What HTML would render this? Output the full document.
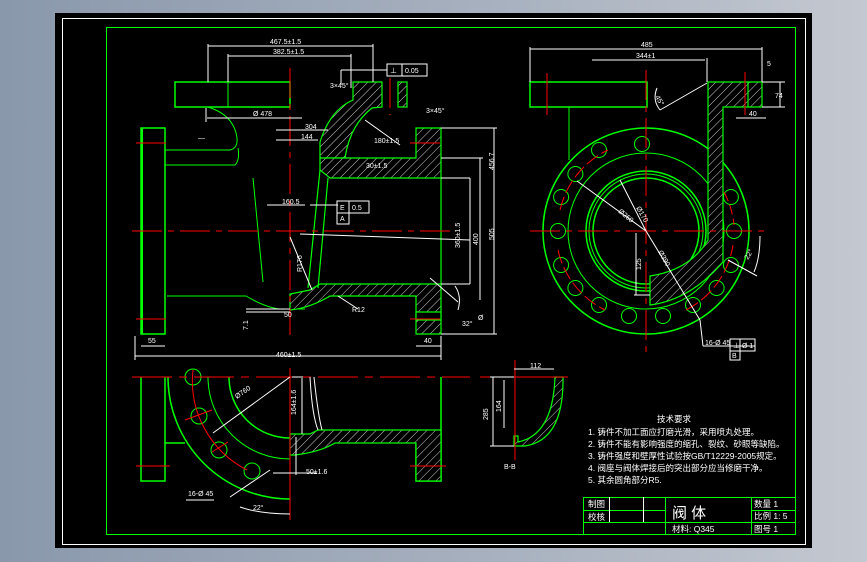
<!DOCTYPE html>
<html><head><meta charset="utf-8"><style>
html,body{margin:0;padding:0;width:867px;height:562px;overflow:hidden;background:linear-gradient(90deg,#8a98ac 0%,#a9b2c0 60%,#c4c8d0 100%);}
svg{position:absolute;left:0;top:0}
text{font-family:"Liberation Sans","Noto Sans CJK SC",sans-serif;fill:#fff}
</style></head><body>
<svg width="867" height="562" viewBox="0 0 867 562" xmlns="http://www.w3.org/2000/svg">
<defs>
<pattern id="h" patternUnits="userSpaceOnUse" width="6" height="6" patternTransform="rotate(45)">
<rect width="6" height="6" fill="#000"/><line x1="0" y1="0" x2="0" y2="6" stroke="#fff" stroke-width="0.8"/></pattern>
</defs>
<rect x="55" y="13" width="757" height="535" fill="#000"/>
<rect x="62.5" y="18.5" width="743" height="526" fill="none" stroke="#fff" stroke-width="1"/>
<rect x="106.5" y="27.5" width="689" height="507" fill="none" stroke="#0f0" stroke-width="1"/>

<!-- FRONT VIEW -->
<g stroke="#0f0" fill="none" stroke-width="1.5">
<rect x="175" y="82" width="115" height="25"/>
<line x1="228" y1="82" x2="228" y2="107" stroke-width="1"/>
<rect x="141" y="128" width="24" height="206"/>
<line x1="142" y1="128" x2="142" y2="334" stroke-width="2"/>
<path d="M165 150 L230 150 Q238 148 237 138 Q234 115 208 107" stroke-width="1"/>
<path d="M165 165 L235 165 Q240 160 238 148" stroke-width="1"/>
<path d="M167 296 L246 296 Q270 310 285 309 L305 309" stroke-width="1"/>
<path d="M253 178 L263 282" stroke-width="1"/>
</g>
<g stroke="#0f0" stroke-width="1.2">
<path d="M353 82 L382 82 L382 107 L372 108 Q350 125 345 158 L320 158 L320 142 Q330 110 353 100 Z" fill="url(#h)"/>
<rect x="398" y="82" width="9" height="25" fill="url(#h)"/>
<path d="M320 158 L416 158 L416 128 L441 128 L441 178 L330 178 L320 170 Z" fill="url(#h)"/>
<path d="M320 284 L441 284 L441 334 L416 334 L416 296 L330 296 Q310 308 290 310 L290 294 L310 290 Z" fill="url(#h)"/>
<line x1="320" y1="170" x2="308" y2="288" fill="none"/>
<line x1="328" y1="178" x2="318" y2="288" fill="none"/>
<line x1="441" y1="178" x2="441" y2="284" fill="none"/>
<rect x="416" y="312" width="25" height="8" fill="#000"/>
</g>
<g stroke="#f00" stroke-width="1" stroke-dasharray="30,6,6,6">
<line x1="132" y1="231" x2="450" y2="231"/>
<line x1="290" y1="68" x2="290" y2="335"/>
<line x1="390" y1="78" x2="390" y2="115"/>
<line x1="136" y1="143" x2="170" y2="143"/><line x1="136" y1="319" x2="170" y2="319"/>
<line x1="410" y1="143" x2="446" y2="143"/><line x1="410" y1="319" x2="446" y2="319"/>
</g>
<!-- front dims -->
<g stroke="#fff" stroke-width="1" fill="none">
<line x1="208" y1="46" x2="373" y2="46"/><line x1="208" y1="44" x2="208" y2="82"/><line x1="373" y1="44" x2="373" y2="82"/>
<line x1="228" y1="56" x2="351" y2="56"/><line x1="228" y1="54" x2="228" y2="82"/><line x1="351" y1="54" x2="351" y2="88"/>
<line x1="207" y1="118" x2="302" y2="118"/><line x1="206" y1="108" x2="206" y2="122"/>
<line x1="276" y1="130" x2="328" y2="130"/><line x1="276" y1="140" x2="318" y2="140"/>
<line x1="267" y1="205" x2="305" y2="205"/><line x1="310" y1="205" x2="338" y2="205"/>
<line x1="441" y1="128" x2="497" y2="128"/><line x1="441" y1="334" x2="497" y2="334"/><line x1="494" y1="128" x2="494" y2="334"/>
<line x1="441" y1="158" x2="483" y2="158"/><line x1="480" y1="158" x2="480" y2="300"/>
<line x1="441" y1="178" x2="470" y2="178"/><line x1="470" y1="178" x2="470" y2="284"/><line x1="441" y1="284" x2="470" y2="284"/>
<line x1="135" y1="356" x2="441" y2="356"/><line x1="135" y1="336" x2="135" y2="360"/><line x1="441" y1="336" x2="441" y2="360"/>
<line x1="141" y1="346" x2="165" y2="346"/><line x1="416" y1="346" x2="441" y2="346"/>
<line x1="290" y1="237" x2="312" y2="290"/><line x1="300" y1="234" x2="470" y2="240"/>
<line x1="365" y1="120" x2="400" y2="145"/>
<line x1="246" y1="309" x2="290" y2="309"/><line x1="246" y1="312" x2="290" y2="312"/>
<line x1="338" y1="296" x2="358" y2="309"/>
<rect x="387" y="64" width="15" height="12"/><rect x="402" y="64" width="25" height="12"/>
<line x1="341" y1="70" x2="387" y2="70"/><line x1="341" y1="70" x2="341" y2="85"/>
<rect x="337" y="201" width="12" height="12"/><rect x="349" y="201" width="20" height="12"/><rect x="337" y="213" width="12" height="11"/>
<path d="M430 278 L444 290 L458 302"/><path d="M455 286 Q462 296 458 310"/>
</g>
<g font-size="7">
<text x="270" y="44">467.5±1.5</text><text x="273" y="54">382.5±1.5</text>
<text x="253" y="116">Ø 478</text><text x="305" y="129">304</text><text x="301" y="139">144</text>
<text x="330" y="88">3×45°</text><text x="390" y="73">⊥</text><text x="405" y="73">0.05</text>
<text x="282" y="204">160.5</text><text x="340" y="210">E</text><text x="352" y="210">0.5</text><text x="340" y="221">A</text>
<text x="426" y="113">3×45°</text><text x="374" y="143">180±1.5</text>
<text x="366" y="168">30±1.5</text><text x="460" y="248" transform="rotate(-90 460 248)">360±1.5</text>
<text x="478" y="245" transform="rotate(-90 478 245)">400</text><text x="494" y="240" transform="rotate(-90 494 240)">505</text>
<text x="494" y="170" transform="rotate(-90 494 170)">456.7</text>
<text x="276" y="357">460±1.5</text><text x="148" y="343">55</text><text x="424" y="343">40</text>
<text x="284" y="317">50</text><text x="248" y="330" transform="rotate(-90 248 330)">7.1</text>
<text x="352" y="312">R12</text><text x="302" y="272" transform="rotate(-90 302 272)">R176</text>
<text x="462" y="326">32°</text><text x="478" y="320">Ø</text><text x="198" y="140">—</text>
</g>

<!-- SIDE VIEW -->
<g stroke="#0f0" fill="none" stroke-width="1.5">
<rect x="530" y="82" width="117" height="25"/>
<line x1="569" y1="107" x2="569" y2="160" stroke-width="1"/>
<circle cx="646" cy="231" r="103"/>
<circle cx="646" cy="231" r="78" stroke-width="1"/>
<circle cx="646" cy="231" r="60"/>
<circle cx="646" cy="231" r="57" stroke-width="1"/>
<circle cx="646" cy="231" r="53"/>
</g>
<g stroke="#0f0" stroke-width="1.2">
<path d="M708 82 L762 82 L762 107 L723 107 L723 262 Q690 300 650 305 L650 276 Q690 270 708 240 Z" fill="url(#h)"/>
<line x1="748" y1="82" x2="748" y2="107"/>
</g>
<g stroke="#0f0" fill="none" stroke-width="1">
<circle cx="734" cy="231" r="7.5"/><circle cx="730.9" cy="265" r="7.5"/><circle cx="716.6" cy="288" r="7.5"/>
<circle cx="693" cy="305" r="7.5"/><circle cx="663" cy="316" r="7.5"/><circle cx="629" cy="316" r="7.5"/>
<circle cx="599" cy="305" r="7.5"/><circle cx="575.4" cy="288" r="7.5"/><circle cx="561.1" cy="265" r="7.5"/>
<circle cx="558" cy="231" r="7.5"/><circle cx="561.1" cy="197" r="7.5"/><circle cx="575.4" cy="174" r="7.5"/>
<circle cx="599" cy="150" r="7.5"/><circle cx="642" cy="144" r="7.5"/><circle cx="730.9" cy="197" r="7.5"/>
</g>
<g stroke="#f00" stroke-width="1" fill="none">
<line x1="530" y1="231" x2="766" y2="231" stroke-dasharray="30,6,6,6"/>
<line x1="646" y1="70" x2="646" y2="355" stroke-dasharray="30,6,6,6"/>
<line x1="547" y1="73" x2="547" y2="115"/><line x1="745" y1="72" x2="745" y2="115"/>
<path d="M560 210 A88 88 0 0 1 608 150" stroke-dasharray="14,4"/>
<path d="M558 250 A88 88 0 0 0 605 310" stroke-dasharray="14,4"/>
<path d="M686 310 A88 88 0 0 0 733 245" stroke-dasharray="14,4"/>
<path d="M724 192 A88 88 0 0 1 734 225" stroke-dasharray="10,4"/>
</g>
<g stroke="#fff" stroke-width="1" fill="none">
<line x1="530" y1="49" x2="762" y2="49"/><line x1="530" y1="47" x2="530" y2="82"/><line x1="762" y1="47" x2="762" y2="82"/>
<line x1="592" y1="60" x2="705" y2="60"/><line x1="707" y1="58" x2="707" y2="82"/>
<line x1="762" y1="82" x2="785" y2="82"/><line x1="762" y1="107" x2="785" y2="107"/><line x1="780" y1="82" x2="780" y2="107"/>
<line x1="736" y1="118" x2="766" y2="118"/>
<path d="M707 83 L660 110"/><path d="M657 88 Q652 100 660 110"/>
<line x1="577" y1="181" x2="646" y2="231"/><line x1="620" y1="180" x2="646" y2="231"/>
<line x1="646" y1="231" x2="700" y2="320"/><line x1="700" y1="320" x2="703" y2="346"/>
<line x1="636" y1="233" x2="636" y2="295"/><line x1="634" y1="295" x2="650" y2="295"/>
<line x1="728" y1="260" x2="757" y2="276"/><path d="M760 236 Q760 258 754 272"/>
<line x1="703" y1="346" x2="755" y2="346"/><rect x="730" y="339" width="10" height="12"/><rect x="740" y="339" width="15" height="12"/><rect x="730" y="351" width="10" height="9"/>
</g>
<g font-size="7">
<text x="641" y="47">485</text><text x="636" y="58">344±1</text><text x="767" y="66">5</text>
<text x="775" y="98">74</text><text x="749" y="116">40</text><text x="655" y="97" transform="rotate(60 655 97)">45°</text>
<text x="618" y="212" transform="rotate(40 618 212)">Ø260</text><text x="636" y="208" transform="rotate(60 636 208)">Ø170</text>
<text x="658" y="252" transform="rotate(60 658 252)">Ø390</text><text x="641" y="270" transform="rotate(-90 641 270)">125</text>
<text x="748" y="260" transform="rotate(-60 748 260)">22°</text>
<text x="705" y="345">16-Ø 45</text><text x="733" y="348">⊥</text><text x="742" y="348">Ø 1</text><text x="732" y="358">B</text>
</g>

<!-- BOTTOM VIEW -->
<g stroke="#0f0" fill="none" stroke-width="1.5">
<path d="M141 377 L141 481 L165 481 L165 377"/>
<path d="M168 377 A122 122 0 0 0 290 499"/>
<path d="M165 443 L185 443"/>
<path d="M208 377 A82 82 0 0 0 290 459" stroke-width="1"/>
<path d="M229 377 A61 61 0 0 0 290 438"/>
<path d="M441 377 L441 481 L416 481 L416 443"/>
</g>
<g stroke="#0f0" stroke-width="1.2">
<path d="M318 430 L441 430 L441 481 L416 481 L416 443 L335 443 Q320 452 295 455 L290 455 L290 434 L310 434 Z" fill="url(#h)"/>
<path d="M555 377 L563 377 Q564 440 525 446 L514 446 L514 436 L518 436 L518 442 Q553 435 555 377 Z" fill="url(#h)"/>
</g>
<g stroke="#0f0" fill="none" stroke-width="1">
<circle cx="199" cy="416" r="8"/><circle cx="219" cy="450" r="8"/><circle cx="252" cy="471" r="8"/><circle cx="193" cy="377" r="8"/>
</g>
<g stroke="#f00" stroke-width="1" fill="none">
<line x1="132" y1="377" x2="470" y2="377" stroke-dasharray="40,7,8,7"/>
<line x1="290" y1="368" x2="290" y2="520"/>
<line x1="136" y1="466" x2="170" y2="466"/><line x1="410" y1="466" x2="446" y2="466"/>
<path d="M193 370 A100 100 0 0 0 247 470"/>
<line x1="185" y1="420" x2="212" y2="410"/><line x1="212" y1="452" x2="228" y2="442"/>
<line x1="480" y1="377" x2="568" y2="377"/><line x1="515" y1="360" x2="515" y2="460"/>
</g>
<g stroke="#fff" stroke-width="1" fill="none">
<line x1="213" y1="433" x2="290" y2="377"/>
<line x1="292" y1="377" x2="303" y2="377"/><line x1="302" y1="378" x2="302" y2="434"/>
<path d="M310 377 Q312 415 318 430"/><path d="M314 377 Q318 415 322 430"/>
<line x1="273" y1="473" x2="317" y2="473"/><line x1="296" y1="437" x2="296" y2="475"/>
<line x1="230" y1="497" x2="270" y2="470"/><line x1="186" y1="500" x2="214" y2="500"/>
<path d="M240 507 Q260 514 290 514"/>
<line x1="490" y1="377" x2="514" y2="377"/><line x1="490" y1="446" x2="514" y2="446"/><line x1="493" y1="377" x2="493" y2="446"/>
<line x1="514" y1="369" x2="554" y2="369"/><line x1="504" y1="380" x2="504" y2="428"/>
</g>
<g font-size="7">
<text x="237" y="399" transform="rotate(-35 237 399)">Ø760</text>
<text x="296" y="415" transform="rotate(-90 296 415)">164±1.6</text>
<text x="306" y="474">50±1.6</text><text x="188" y="496">16-Ø 45</text><text x="253" y="510">22°</text>
<text x="530" y="368">112</text><text x="488" y="420" transform="rotate(-90 488 420)">285</text>
<text x="501" y="412" transform="rotate(-90 501 412)">164</text><text x="504" y="469">B-B</text>
</g>

<!-- Technical requirements -->
<g font-size="8.5">
<text x="657" y="422">技术要求</text>
<text x="588" y="435">1. 铸件不加工面应打磨光滑，采用喷丸处理。</text>
<text x="588" y="447">2. 铸件不能有影响强度的缩孔、裂纹、砂眼等缺陷。</text>
<text x="588" y="459">3. 铸件强度和壁厚性试验按GB/T12229-2005规定。</text>
<text x="588" y="471">4. 阀座与阀体焊接后的突出部分应当修磨干净。</text>
<text x="588" y="483">5. 其余圆角部分R5.</text>
</g>

<!-- Title block -->
<g stroke="#0f0" stroke-width="1" fill="none">
<rect x="583.5" y="497.5" width="212" height="37"/>
<line x1="583" y1="522.5" x2="795" y2="522.5"/>
<line x1="583" y1="510.5" x2="665" y2="510.5"/><line x1="751" y1="510.5" x2="795" y2="510.5"/>
<line x1="665.5" y1="497" x2="665.5" y2="534"/><line x1="751.5" y1="497" x2="751.5" y2="534"/>
</g>
<g stroke="#fff" stroke-width="1">
<line x1="609.5" y1="497" x2="609.5" y2="522"/><line x1="643.5" y1="497" x2="643.5" y2="522"/>
</g>
<g font-size="8.5">
<text x="588" y="507">制图</text><text x="588" y="520">校核</text>
<text x="672" y="532">材料: Q345</text>
<text x="754" y="507">数量  1</text><text x="754" y="519">比例  1: 5</text><text x="754" y="532">图号  1</text>
</g>
<text x="672" y="518" font-size="15">阀    体</text>
</svg>
</body></html>
